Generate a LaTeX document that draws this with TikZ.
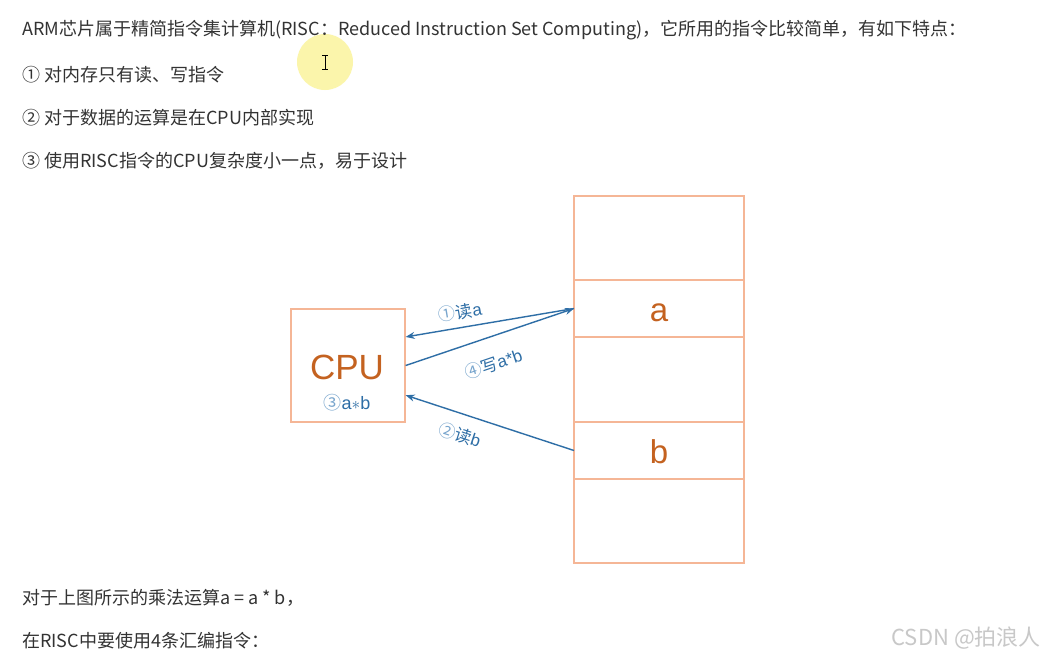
\documentclass[tikz,border=0pt]{standalone}
\usepackage{fontspec}
\setmainfont{Noto Sans CJK SC}
\newfontfamily\figfont{Liberation Sans}
\usepackage{xcolor}
\definecolor{bodyGray}{RGB}{51,51,51}
\definecolor{cellPeach}{RGB}{245,182,150}
\definecolor{cpuOrange}{RGB}{196,98,32}
\definecolor{flowBlue}{RGB}{46,110,166}
\definecolor{stepBlue}{RGB}{120,165,205}
\definecolor{markGray}{RGB}{200,200,200}
\definecolor{cursorYellow}{RGB}{250,243,150}
\usetikzlibrary{positioning,calc,arrows.meta}
\tikzset{
  para/.style={anchor=west,inner sep=0pt,text=bodyGray,font=\fontsize{18}{20}\selectfont},
  cell/.style={rectangle,draw=cellPeach,line width=1.3pt,minimum width=170pt,
    minimum height=#1,inner sep=0pt,outer sep=0pt,text height=25pt,text depth=0pt,
    text=cpuOrange,font=\figfont\fontsize{33}{36}\selectfont},
  cell/.default=57pt,
  flow/.style={draw=flowBlue,line width=1.4pt},
  tip/.style={-{Stealth[length=9pt,width=7pt]}},
  pit/.style={{Stealth[length=9pt,width=7pt]}-},
  lbl/.style={text=flowBlue,font=\fontsize{17}{19}\selectfont,sloped,inner sep=0pt}
}
\newcommand{\circnum}[1]{{\color{stepBlue}#1}}
\begin{document}
\begin{tikzpicture}[x=1pt,y=-1pt]
  \useasboundingbox[fill=white] (0,0) rectangle (1046,656);
  % cursor highlight
  \fill[cursorYellow,opacity=0.8] (325,62) circle (28);
  \node[para] (l1) at (22,30)
    {ARM芯片属于精简指令集计算机(RISC：Reduced Instruction Set Computing)，它所用的指令比较简单，有如下特点：};
  \draw[black,line width=0.8pt] (322,55) -- (328,55) (325,55) -- (325,69) (322,69) -- (328,69);
  \node[para] (l2) at (22,75) {① 对内存只有读、写指令};
  \node[para] (l3) at (22,118) {② 对于数据的运算是在CPU内部实现};
  \node[para] (l4) at (22,161) {③ 使用RISC指令的CPU复杂度小一点，易于设计};

  % memory column
  \node[cell=84pt, anchor=north west] (m1) at (574,196) {};
  \node[cell=57pt, below=0pt of m1] (m2) {a};
  \node[cell=85pt, below=0pt of m2] (m3) {};
  \node[cell=57pt, below=0pt of m3] (m4) {b};
  \node[cell=84pt, below=0pt of m4] (m5) {};

  % cpu
  \node[rectangle,draw=cellPeach,line width=1.3pt,minimum width=114pt,
    minimum height=113pt,inner sep=0pt] (cpu) at (348,365.5) {};
  \node[text=cpuOrange,font=\figfont\fontsize{35}{36}\selectfont,inner sep=0pt] (cputxt) at (347,367) {CPU};
  \node[text=flowBlue,font=\fontsize{18}{20}\selectfont,inner sep=0pt] (mul) at (347,403)
    {\circnum{③}{\figfont a$\ast$b}};

  \coordinate (rd1) at ($(cpu.north east)!0.25!(cpu.south east)$);
  \coordinate (rd2) at ($(cpu.north east)!0.76!(cpu.south east)$);

  \draw[flow,pit] (rd1) -- (m2.west)
    node[pos=0.34,above=7pt,lbl] {\circnum{①}读{\figfont a}};
  \draw[flow,tip] (cpu.east) -- (m2.west)
    node[pos=0.47,below=18pt,lbl] {\circnum{④}写{\figfont a*b}};
  \draw[flow,pit] (rd2) -- (m4.west)
    node[pos=0.36,below=12pt,lbl] {\circnum{②}读{\figfont b}};

  \node[para] (l5) at (22,598) {对于上图所示的乘法运算a = a * b，};
  \node[para] (l6) at (22,641) {在RISC中要使用4条汇编指令：};
  \node[anchor=east,inner sep=0pt,text=markGray,font=\fontsize{22}{24}\selectfont] (wm) at (1041,638) {CSDN @拍浪人};
\end{tikzpicture}
\end{document}
